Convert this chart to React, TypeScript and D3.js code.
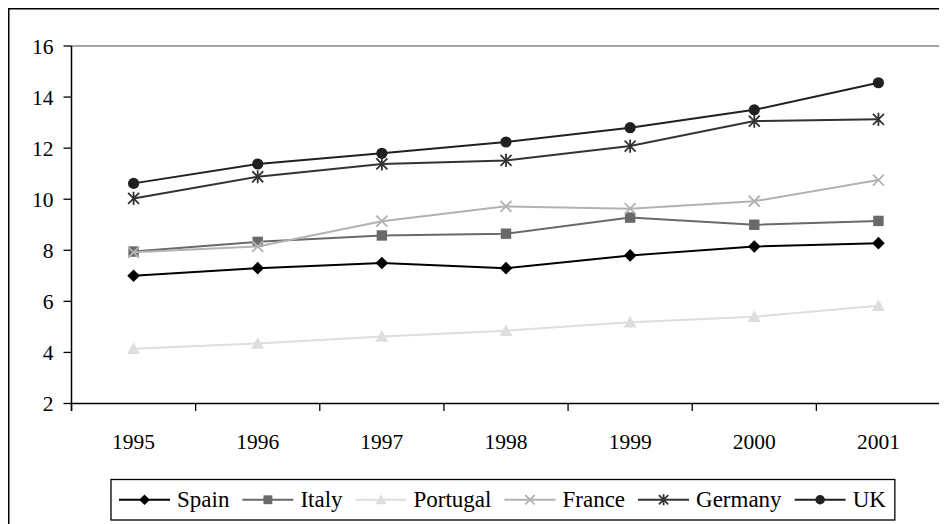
import React, { useMemo } from 'react';
import * as d3 from 'd3';

// --- DATA ---
const years = ['1995', '1996', '1997', '1998', '1999', '2000', '2001'];
const spain = [7.0, 7.3, 7.5, 7.3, 7.8, 8.15, 8.28];
const italy = [7.95, 8.33, 8.58, 8.65, 9.28, 9.0, 9.15];
const portugal = [4.14, 4.35, 4.62, 4.85, 5.18, 5.4, 5.83];
const france = [7.92, 8.15, 9.14, 9.72, 9.63, 9.92, 10.75];
const germany = [10.03, 10.88, 11.38, 11.52, 12.08, 13.06, 13.13];
const uk = [10.62, 11.38, 11.8, 12.24, 12.8, 13.5, 14.56];
const yTicks = [2, 4, 6, 8, 10, 12, 14, 16];

type Marker = 'diamond' | 'square' | 'triangle' | 'x' | 'star' | 'circle';

interface Series {
  name: string;
  values: number[];
  color: string;
  marker: Marker;
}

const series: Series[] = [
  { name: 'Spain', values: spain, color: '#000000', marker: 'diamond' },
  { name: 'Italy', values: italy, color: '#696969', marker: 'square' },
  { name: 'Portugal', values: portugal, color: '#dedede', marker: 'triangle' },
  { name: 'France', values: france, color: '#b2b2b2', marker: 'x' },
  { name: 'Germany', values: germany, color: '#333333', marker: 'star' },
  { name: 'UK', values: uk, color: '#202020', marker: 'circle' },
];

const FONT = 'Liberation Serif';
const W = 939;
const H = 516;
const plot = { left: 63.5, top: 38, right: 932.5, bottom: 395.5 };

// one marker glyph centred on (cx, cy)
const MarkerGlyph: React.FC<{ kind: Marker; cx: number; cy: number; color: string; s?: number }> = ({ kind, cx, cy, color, s = 1 }) => {
  if (kind === 'diamond') {
    const r = 6.3 * s;
    return <path d={`M${cx},${cy - r}L${cx + r},${cy}L${cx},${cy + r}L${cx - r},${cy}Z`} fill={color} />;
  }
  if (kind === 'square') {
    const r = 5.2 * s;
    return <rect x={cx - r} y={cy - r} width={2 * r} height={2 * r} fill={color} />;
  }
  if (kind === 'triangle') {
    const r = 6.5 * s;
    return <path d={`M${cx},${cy - r}L${cx + r},${cy + r * 0.8}L${cx - r},${cy + r * 0.8}Z`} fill={color} />;
  }
  if (kind === 'x') {
    const r = 5.5 * s;
    return <path d={`M${cx - r},${cy - r}L${cx + r},${cy + r}M${cx - r},${cy + r}L${cx + r},${cy - r}`} stroke={color} strokeWidth={1.8} fill="none" />;
  }
  if (kind === 'star') {
    const r = 5.5 * s;
    return (
      <path
        d={`M${cx - r},${cy - r}L${cx + r},${cy + r}M${cx - r},${cy + r}L${cx + r},${cy - r}M${cx},${cy - r * 1.2}L${cx},${cy + r * 1.2}`}
        stroke={color} strokeWidth={1.8} fill="none"
      />
    );
  }
  return <circle cx={cx} cy={cy} r={5.6 * s} fill={color} />;
};

export default function App() {
  const x = d3.scaleBand<string>().domain(years).range([plot.left, plot.right]);
  const y = d3.scaleLinear().domain([2, 16]).range([plot.bottom, plot.top]);
  const cxOf = (i: number) => x(years[i])! + x.bandwidth() / 2;
  const line = d3.line<number>().x((_, i) => cxOf(i)).y(d => y(d));

  // legend layout, measured with canvas so text widths fit
  const legendFont = 23;
  const legendItems = useMemo(() => {
    const ctx = document.createElement('canvas').getContext('2d')!;
    ctx.font = `${legendFont}px "${FONT}"`;
    let pos = 103 + 8;
    return series.map((s, i) => {
      const item = { s, x: pos };
      pos += 58 + ctx.measureText(s.name).width + (i < series.length - 1 ? 13 : 9);
      return { ...item, end: pos };
    });
  }, []);
  const box = { x: 103, y: 471.5, h: 40.5 };
  const boxW = legendItems[legendItems.length - 1].end - box.x;
  const ly = box.y + box.h / 2;

  const edges = years.map(yr => x(yr)!).concat([plot.right]);

  return (
    <svg width={W} height={H} style={{ display: 'block' }} fontFamily={FONT}>
      {/* outer frame, runs off the right and bottom edge */}
      <rect x={0.75} y={0.75} width={W + 20} height={H + 20} fill="#fff" stroke="#000" strokeWidth={1.5} />

      {/* plot area border */}
      <path d={`M${plot.left},${plot.top}H${plot.right}V${plot.bottom}`} fill="none" stroke="#888" strokeWidth={1.5} />

      {/* y axis */}
      <line x1={plot.left} x2={plot.left} y1={plot.top} y2={plot.bottom + 7.5} stroke="#000" strokeWidth={1.5} />
      {yTicks.map(t => (
        <g key={t}>
          <line x1={plot.left - 8} x2={plot.left} y1={y(t)} y2={y(t)} stroke="#000" strokeWidth={1.3} />
          <text x={plot.left - 18} y={y(t)} dy="0.36em" textAnchor="end" fontSize={21.5} fill="#000">{t}</text>
        </g>
      ))}

      {/* x axis */}
      <line x1={plot.left} x2={plot.right} y1={plot.bottom} y2={plot.bottom} stroke="#000" strokeWidth={1.5} />
      {edges.map((e, i) => (
        <line key={i} x1={e} x2={e} y1={plot.bottom} y2={plot.bottom + 7.5} stroke="#000" strokeWidth={1.3} />
      ))}
      {years.map((yr, i) => (
        <text key={yr} x={cxOf(i)} y={plot.bottom + 45} textAnchor="middle" fontSize={21.5} fill="#000">{yr}</text>
      ))}

      {/* series */}
      {series.map(s => (
        <g key={s.name}>
          <path d={line(s.values)!} fill="none" stroke={s.color} strokeWidth={2} />
          {s.values.map((v, i) => (
            <MarkerGlyph key={i} kind={s.marker} cx={cxOf(i)} cy={y(v)} color={s.color} />
          ))}
        </g>
      ))}

      {/* legend */}
      <rect x={box.x} y={box.y} width={boxW} height={box.h} fill="#fff" stroke="#000" strokeWidth={1.3} />
      {legendItems.map(({ s, x: lx }) => (
        <g key={s.name}>
          <line x1={lx} x2={lx + 51} y1={ly} y2={ly} stroke={s.color} strokeWidth={2} />
          <MarkerGlyph kind={s.marker} cx={lx + 25.5} cy={ly} color={s.color} s={0.85} />
          <text x={lx + 58} y={ly + 7.5} fontSize={legendFont} fill="#000">{s.name}</text>
        </g>
      ))}
    </svg>
  );
}
